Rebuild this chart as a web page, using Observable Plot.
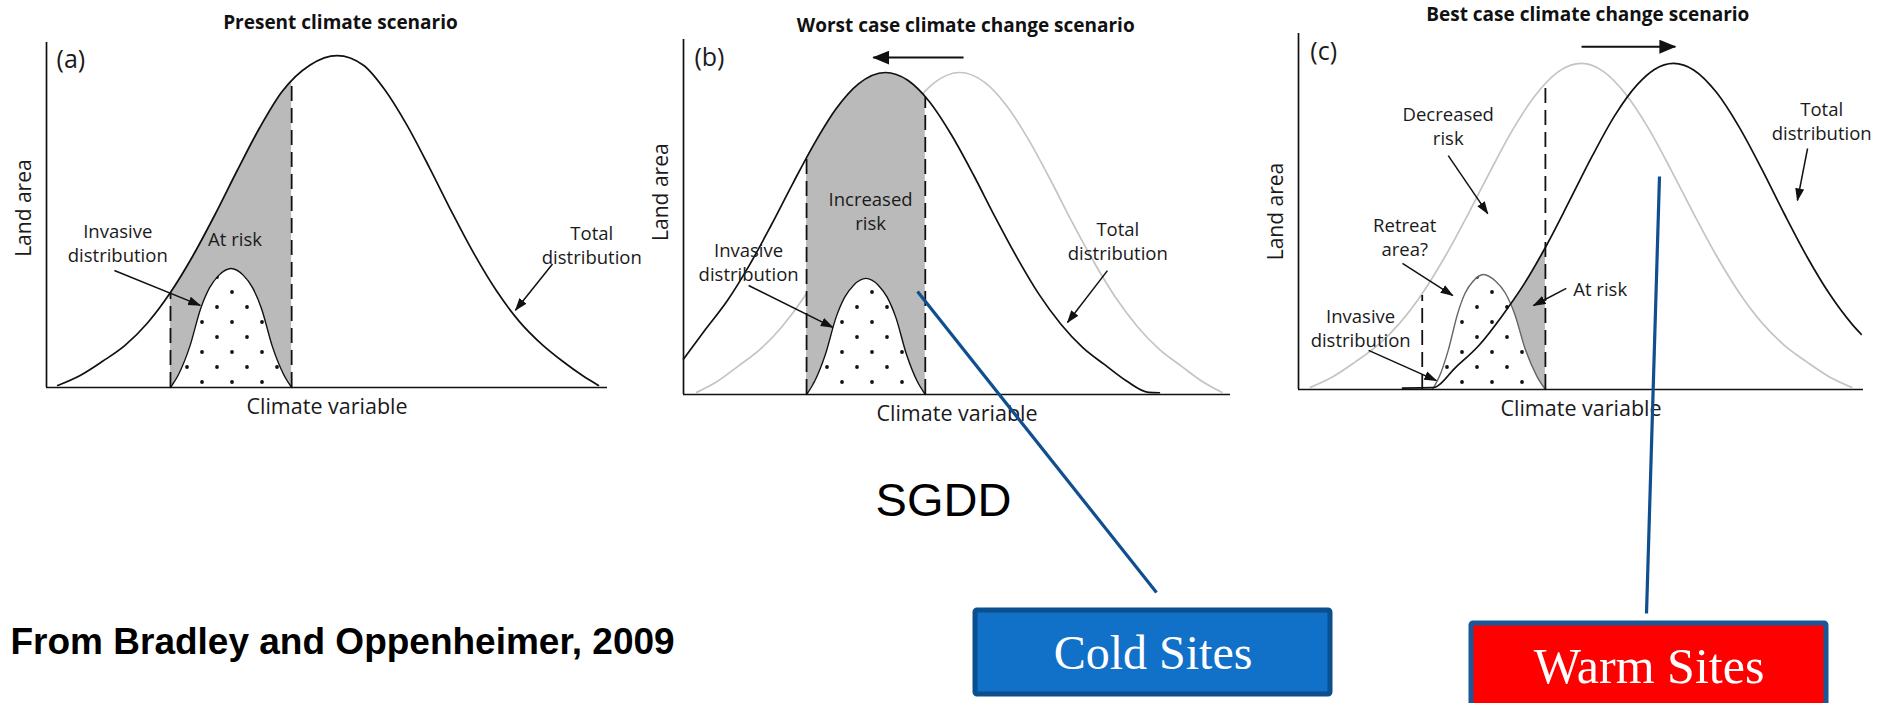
<!DOCTYPE html>
<html>
<head>
<meta charset="utf-8">
<script src="https://cdn.jsdelivr.net/npm/d3@7"></script>
<script src="https://cdn.jsdelivr.net/npm/@observablehq/plot@0.6"></script>
<style>
  html, body { margin: 0; padding: 0; background: #fff; }
  body { width: 1888px; height: 703px; overflow: hidden; position: relative; font-family: "Open Sans", sans-serif; }
  .panel { position: absolute; top: 0; }
  #overlay { position: absolute; left: 0; top: 0; pointer-events: none; }
</style>
</head>
<body>
<svg width="0" height="0" style="position:absolute">
  <defs>
    <pattern id="dots" patternUnits="userSpaceOnUse" width="30" height="30">
      <circle cx="7" cy="7" r="1.9" fill="#111"/>
      <circle cx="22" cy="22" r="1.9" fill="#111"/>
    </pattern>
    <marker id="tri" viewBox="0 0 13 10" refX="12" refY="5" markerWidth="13" markerHeight="10" markerUnits="userSpaceOnUse" orient="auto">
      <path d="M0,0.5L13,5L0,9.5z" fill="#111"/>
    </marker>
    <marker id="tri2" viewBox="0 0 17 14" refX="16" refY="7" markerWidth="17" markerHeight="14" markerUnits="userSpaceOnUse" orient="auto">
      <path d="M0,0L17,7L0,14z" fill="#111"/>
    </marker>
  </defs>
</svg>
<div id="pa" class="panel" style="left:0px"></div>
<div id="pb" class="panel" style="left:640px"></div>
<div id="pc" class="panel" style="left:1260px"></div>
<div id="overlay"></div>
<script>
// ---------------- DATA (panel units: x 0..100 along the axis, y 0..100 up the axis) ----------------
// Panel (a) Present climate scenario
const aTitle = "Present climate scenario";
const aTotalX = [2, 6, 10, 14, 18, 22, 26, 30, 34, 38, 42, 47, 51.8, 56.5, 60.3, 64.3, 68.3, 72.3, 76.3, 80.3, 84.3, 88.3, 92, 95.6, 98.4];
const aTotalY = [0.6, 3.5, 7.6, 12.2, 18.7, 27.3, 37.9, 50.0, 62.9, 75.3, 85.8, 93.5, 96.2, 93.4, 86.3, 75.9, 63.6, 50.7, 38.5, 27.8, 19.1, 12.5, 7.6, 3.4, 0.6];
const aInvX = [22.1, 23.6, 25.5, 27.5, 29.1, 30.7, 32.9, 35.1, 36.7, 38.3, 40.3, 42.2, 43.7];
const aInvY = [0, 4, 11.7, 23, 29, 32.5, 34.5, 32.5, 29, 23, 11.7, 4, 0];
const aDashX = [22.1, 43.7];
const aDashTop = [27.5, 88.6];
const aLabels = ["Invasive\ndistribution", "At risk", "Total\ndistribution"];
const aLabelX = [12.7, 33.6, 97.2];
const aLabelY = [42, 43.2, 41.5];
const aArrowX1 = [12.1, 90.2], aArrowY1 = [33.9, 35.8], aArrowX2 = [27.4, 83.6], aArrowY2 = [23.8, 22.4];

// Panel (b) Worst case climate change scenario
const bTitle = "Worst case climate change scenario";
const bTotalX = [0, 4, 8, 12, 16, 20, 24, 28, 32, 36.9, 41, 45, 49, 53, 57, 61, 65, 69, 73, 77, 81, 85, 87];
const bTotalY = [10, 18.3, 26.4, 36.3, 47.6, 59.5, 70.9, 80.7, 87.5, 90.7, 88.5, 82.4, 73.1, 61.9, 49.9, 38.5, 28.2, 19.8, 13.2, 8.4, 3.8, 0.6, 0.5];
const bOldX = [2.4, 6, 10, 14, 18, 22, 26, 30, 34, 38, 42, 46, 50.5, 55, 59, 63, 67, 71, 75, 79, 83, 87, 91, 95, 98.4];
const bOldY = [0.6, 3.5, 8.0, 12.7, 19.1, 27.3, 37.4, 48.7, 60.7, 72.0, 81.5, 88.0, 90.7, 88.0, 81.5, 72.0, 60.7, 48.7, 37.4, 27.3, 19.1, 12.7, 8.0, 3.5, 0.6];
const bInvX = [22.5, 24.0, 25.9, 27.9, 29.5, 31.1, 33.35, 35.6, 37.2, 38.8, 40.8, 42.7, 44.2];
const bInvY = [0, 3.8, 11.1, 21.8, 27.5, 30.8, 32.7, 30.8, 27.5, 21.8, 11.1, 3.8, 0];
const bDashX = [22.5, 44.2];
const bDashTop = [66.6, 83.8];
const bLabels = ["Increased\nrisk", "Invasive\ndistribution", "Total\ndistribution"];
const bLabelX = [34.2, 11.9, 79.4];
const bLabelY = [52, 37.5, 43.4];
const bArrowX1 = [11.9, 77.5], bArrowY1 = [30.7, 34.9], bArrowX2 = [27.3, 70.2], bArrowY2 = [18.9, 20.3];
const bShift = [51.2, 34.7, 94.9];

// Panel (c) Best case climate change scenario
const cTitle = "Best case climate change scenario";
const cTotalX = [18.4, 23.7, 28, 32, 36, 40, 44, 48, 52, 56, 60, 63, 66.4, 70, 74, 78, 82, 86, 90, 94, 98, 99.6];
const cTotalY = [0.4, 0.5, 6.5, 12.5, 20.6, 29.8, 40.8, 53.1, 65.6, 77.0, 85.7, 89.9, 91.6, 89.7, 83.4, 73.7, 61.9, 49.3, 37.3, 26.8, 18.3, 15.5];
const cOldX = [2.1, 6, 10, 14, 18, 22, 26, 30, 34, 38, 42, 46, 50.1, 54, 58, 62, 66, 70, 74, 78, 82, 86, 90, 94, 97.9];
const cOldY = [0.6, 3.5, 7.7, 12.4, 18.8, 27.2, 37.5, 49.2, 61.5, 73.2, 82.8, 89.3, 91.6, 89.3, 82.8, 73.2, 61.5, 49.2, 37.5, 27.2, 18.8, 12.4, 7.7, 3.5, 0.6];
const cInvX = [23.7, 24.95, 26.5, 28.2, 29.5, 30.9, 32.7, 34.9, 36.6, 38.2, 40.2, 42.2, 43.7];
const cInvY = [0, 3.7, 11.0, 21.5, 27.1, 30.4, 32.3, 30.4, 27.1, 21.5, 11.0, 3.7, 0];
const cDashX = [21.9, 43.7];
const cDashTop = [26.4, 86.2];
const cLabels = ["Decreased\nrisk", "Retreat\narea?", "At risk", "Invasive\ndistribution", "Total\ndistribution"];
const cLabelX = [26.5, 18.8, 53.4, 11.0, 92.6];
const cLabelY = [74.2, 43, 28.4, 17.4, 75.6];
const cArrowX1 = [26.5, 18.4, 47.4, 12.4, 90.1], cArrowY1 = [65.7, 35.4, 28.4, 11.0, 67.7];
const cArrowX2 = [33.5, 27.3, 41.6, 24.4, 88.3], cArrowY2 = [49.4, 26.4, 23.6, 2.5, 53.1];
const cShift = [50.1, 66.7, 96.3];

// Page annotations (page pixels)
const connX1 = [917, 1659], connY1 = [291, 176], connX2 = [1156, 1646], connY2 = [592, 613];
const boxText = ["Cold Sites", "Warm Sites"];
const boxX1 = [975, 1471], boxX2 = [1330, 1826], boxY1 = [610, 623], boxY2 = [694, 712];
const boxTextY = [653, 666];
const boxFontSize = [48, 50];
const boxFill = ["#1170c8", "#ff0000"];
const boxStroke = ["#0b4f8f", "#1b5797"];
const sgddText = "SGDD";
const creditText = "From Bradley and Oppenheimer, 2009";

// ---------------- helpers ----------------
const pts = (xs, ys) => xs.map((x, i) => ({x, y: ys[i]}));
const lbl = (ts, xs, ys) => ts.map((t, i) => ({t, x: xs[i], y: ys[i]}));
const arrs = (x1, y1, x2, y2) => x1.map((v, i) => ({x1: v, y1: y1[i], x2: x2[i], y2: y2[i]}));

function makePanel(o) {
  const curve = "monotone-x";
  const total = pts(o.totalX, o.totalY);
  const inv = pts(o.invX, o.invY);
  const ink = "#1a1a1a";
  const marks = [];
  if (o.oldX) marks.push(Plot.line(pts(o.oldX, o.oldY), {x: "x", y: "y", curve, stroke: "#c4c4c4", strokeWidth: 1.7}));
  marks.push(Plot.areaY(total, {x: "x", y: "y", curve, fill: "#bababa", className: "band"}));
  marks.push(Plot.areaY(inv, {x: "x", y: "y", curve, fill: "#ffffff"}));
  marks.push(Plot.areaY(inv, {x: "x", y: "y", curve, fill: "url(#dots)"}));
  marks.push(Plot.line(inv, {x: "x", y: "y", curve, stroke: o.invStroke, strokeWidth: 1.4}));
  marks.push(Plot.line(total, {x: "x", y: "y", curve, stroke: "#111", strokeWidth: 1.7}));
  marks.push(Plot.ruleX(pts(o.dashX, o.dashTop), {x: "x", y1: 0, y2: "y", stroke: "#111", strokeWidth: 1.8, strokeDasharray: "15,7"}));
  marks.push(Plot.ruleX([0], {stroke: "#111", strokeWidth: 1.7}));
  marks.push(Plot.ruleY([0], {stroke: "#111", strokeWidth: 1.7}));
  marks.push(Plot.link(arrs(o.ax1, o.ay1, o.ax2, o.ay2), {x1: "x1", y1: "y1", x2: "x2", y2: "y2", stroke: "#111", strokeWidth: 1.5, className: "arr"}));
  if (o.shift) marks.push(Plot.link([{x1: o.shift[0], x2: o.shift[1], y: o.shift[2]}], {x1: "x1", x2: "x2", y1: "y", y2: "y", stroke: "#111", strokeWidth: 2, className: "shift"}));
  marks.push(Plot.text(lbl(o.labels, o.lx, o.ly), {x: "x", y: "y", text: "t", fontSize: 18.5, lineHeight: 1.3, fill: ink}));
  marks.push(Plot.text([o.tag], {x: o.tagX, y: o.tagY, textAnchor: "start", fontSize: 25, fill: ink}));
  marks.push(Plot.text([o.title], {x: o.titleX, y: o.titleY, fontSize: 19, fontWeight: "bold", fill: "#111"}));
  marks.push(Plot.text(["Climate variable"], {frameAnchor: "bottom", lineAnchor: "middle", dy: 20, fontSize: 21.5, fill: ink}));
  marks.push(Plot.text(["Land area"], {x: 0, y: o.landY, rotate: -90, dx: -22, fontSize: 21, fill: ink}));

  const svg = Plot.plot({
    width: o.width, height: 420,
    marginLeft: o.m[0], marginRight: o.m[1], marginTop: o.m[2], marginBottom: o.m[3],
    x: {domain: [0, 100], axis: null},
    y: {domain: [0, 100], axis: null},
    style: {background: "transparent", overflow: "visible", fontFamily: "'Open Sans', sans-serif"},
    marks
  });
  const sx = svg.scale("x");
  const s = d3.select(svg);
  const x0 = sx.apply(o.band[0]), x1 = sx.apply(o.band[1]);
  s.append("defs").append("clipPath").attr("id", o.id + "clip")
    .append("rect").attr("x", x0).attr("y", 0).attr("width", x1 - x0).attr("height", 420);
  s.select("g.band").attr("clip-path", `url(#${o.id}clip)`);
  s.selectAll("g.arr path").attr("marker-end", "url(#tri)");
  s.selectAll("g.shift path").attr("marker-end", "url(#tri2)");
  document.getElementById(o.id).appendChild(svg);
}

makePanel({id: "pa", width: 640, m: [46, 33, 42, 33],
  totalX: aTotalX, totalY: aTotalY, invX: aInvX, invY: aInvY, invStroke: "#111",
  dashX: aDashX, dashTop: aDashTop, band: [22.1, 43.7],
  ax1: aArrowX1, ay1: aArrowY1, ax2: aArrowX2, ay2: aArrowY2,
  labels: aLabels, lx: aLabelX, ly: aLabelY,
  tag: "(a)", tagX: 1.8, tagY: 94.8, title: aTitle, titleX: 52.4, titleY: 105.8, landY: 52});

makePanel({id: "pb", width: 640, m: [43, 50, 39, 26],
  totalX: bTotalX, totalY: bTotalY, oldX: bOldX, oldY: bOldY, invX: bInvX, invY: bInvY, invStroke: "#111",
  dashX: bDashX, dashTop: bDashTop, band: [22.5, 44.2],
  ax1: bArrowX1, ay1: bArrowY1, ax2: bArrowX2, ay2: bArrowY2, shift: bShift,
  labels: bLabels, lx: bLabelX, ly: bLabelY,
  tag: "(b)", tagX: 2.0, tagY: 94.9, title: bTitle, titleX: 51.6, titleY: 103.9, landY: 57});

makePanel({id: "pc", width: 628, m: [38, 25, 33, 31],
  totalX: cTotalX, totalY: cTotalY, oldX: cOldX, oldY: cOldY, invX: cInvX, invY: cInvY, invStroke: "#666",
  dashX: cDashX, dashTop: cDashTop, band: [28, 43.7],
  ax1: cArrowX1, ay1: cArrowY1, ax2: cArrowX2, ay2: cArrowY2, shift: cShift,
  labels: cLabels, lx: cLabelX, ly: cLabelY,
  tag: "(c)", tagX: 2.1, tagY: 94.7, title: cTitle, titleX: 51.2, titleY: 105.1, landY: 50});

// ---------------- overlay: connectors, boxes, notes ----------------
const conns = connX1.map((v, i) => ({x1: v, y1: connY1[i], x2: connX2[i], y2: connY2[i]}));
const boxes = boxText.map((t, i) => ({t, x1: boxX1[i], x2: boxX2[i], y1: boxY1[i], y2: boxY2[i], ty: boxTextY[i], fill: boxFill[i], stroke: boxStroke[i]}));
const overlay = Plot.plot({
  width: 1888, height: 703, margin: 0,
  x: {domain: [0, 1888], range: [0, 1888], axis: null},
  y: {domain: [0, 703], range: [0, 703], axis: null},
  style: {background: "transparent", overflow: "visible"},
  marks: [
    Plot.link(conns, {x1: "x1", y1: "y1", x2: "x2", y2: "y2", stroke: "#0f4f8f", strokeWidth: 3.2}),
    Plot.rect(boxes, {x1: "x1", x2: "x2", y1: "y1", y2: "y2", fill: d => d.fill, stroke: d => d.stroke, strokeWidth: 5, rx: 2}),
    Plot.text(boxes.slice(0, 1), {x: d => (d.x1 + d.x2) / 2, y: "ty", text: "t", fill: "#ffffff", fontSize: boxFontSize[0], fontFamily: "'Liberation Serif', serif"}),
    Plot.text(boxes.slice(1), {x: d => (d.x1 + d.x2) / 2, y: "ty", text: "t", fill: "#ffffff", fontSize: boxFontSize[1], fontFamily: "'Liberation Serif', serif"}),
    Plot.text([sgddText], {x: 943, y: 500, fontSize: 47, fill: "#000", fontFamily: "'Liberation Sans', Arial, sans-serif"}),
    Plot.text([creditText], {x: 10, y: 642, textAnchor: "start", fontSize: 37, fontWeight: "bold", fill: "#000", fontFamily: "'Liberation Sans', Arial, sans-serif"})
  ]
});
document.getElementById("overlay").appendChild(overlay);
</script>
</body>
</html>
